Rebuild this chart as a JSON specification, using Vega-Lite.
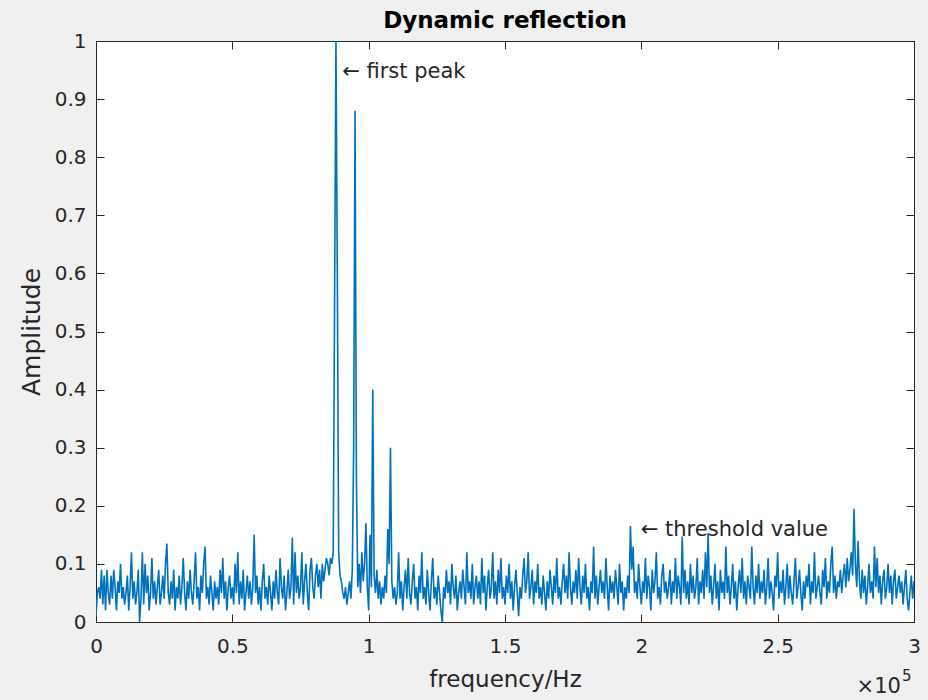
{
"$schema": "https://vega.github.io/schema/vega-lite/v6.json",
"width": 818, "height": 581,
"autosize": {"type": "none"},
"padding": {"left": 96, "top": 41, "right": 14, "bottom": 78},
"background": "#f0f0f0",
"title": {"text": "Dynamic reflection", "fontSize": 23, "fontWeight": "bold", "font": "DejaVu Sans", "color": "#000000", "baseline": "alphabetic", "offset": -20, "anchor": "middle"},
"config": {
  "view": {"fill": "white", "stroke": "#262626", "strokeWidth": 1},
  "axis": {"grid": false, "domainColor": "#262626", "tickColor": "#262626", "labelColor": "#262626", "titleColor": "#262626", "labelFont": "DejaVu Sans", "titleFont": "DejaVu Sans", "labelFontSize": 20, "tickSize": -8, "labelFlush": false, "labelOverlap": false}
},
"datasets": {
"spec": [
{"f":0,"a":0.01},{"f":500,"a":0.05},{"f":1000,"a":0.06},{"f":1500,"a":0.04},{"f":2000,"a":0.09},{"f":2500,"a":0.03},{"f":3000,"a":0.08},{"f":3500,"a":0.02},{"f":4000,"a":0.09},{"f":4500,"a":0.05},
{"f":5000,"a":0.03},{"f":5500,"a":0.08},{"f":6000,"a":0.04},{"f":6500,"a":0.09},{"f":7000,"a":0.06},{"f":7500,"a":0.02},{"f":8000,"a":0.07},{"f":8500,"a":0.05},{"f":9000,"a":0.10},{"f":9500,"a":0.04},
{"f":10000,"a":0.06},{"f":10500,"a":0.03},{"f":11000,"a":0.05},{"f":11500,"a":0.08},{"f":12000,"a":0.02},{"f":12500,"a":0.06},{"f":13000,"a":0.12},{"f":13500,"a":0.04},{"f":14000,"a":0.07},{"f":14500,"a":0.03},
{"f":15000,"a":0.05},{"f":15500,"a":0.09},{"f":16000,"a":0.00},{"f":16500,"a":0.04},{"f":17000,"a":0.12},{"f":17500,"a":0.03},{"f":18000,"a":0.10},{"f":18500,"a":0.05},{"f":19000,"a":0.08},{"f":19500,"a":0.02},
{"f":20000,"a":0.05},{"f":20500,"a":0.11},{"f":21000,"a":0.04},{"f":21500,"a":0.07},{"f":22000,"a":0.03},{"f":22500,"a":0.06},{"f":23000,"a":0.09},{"f":23500,"a":0.03},{"f":24000,"a":0.05},{"f":24500,"a":0.08},
{"f":25000,"a":0.04},{"f":25500,"a":0.10},{"f":26000,"a":0.135},{"f":26500,"a":0.05},{"f":27000,"a":0.03},{"f":27500,"a":0.07},{"f":28000,"a":0.04},{"f":28500,"a":0.09},{"f":29000,"a":0.02},{"f":29500,"a":0.06},
{"f":30000,"a":0.04},{"f":30500,"a":0.08},{"f":31000,"a":0.03},{"f":31500,"a":0.06},{"f":32000,"a":0.11},{"f":32500,"a":0.05},{"f":33000,"a":0.02},{"f":33500,"a":0.07},{"f":34000,"a":0.04},{"f":34500,"a":0.09},
{"f":35000,"a":0.05},{"f":35500,"a":0.03},{"f":36000,"a":0.07},{"f":36500,"a":0.12},{"f":37000,"a":0.04},{"f":37500,"a":0.06},{"f":38000,"a":0.02},{"f":38500,"a":0.08},{"f":39000,"a":0.05},{"f":39500,"a":0.10},
{"f":40000,"a":0.13},{"f":40500,"a":0.04},{"f":41000,"a":0.06},{"f":41500,"a":0.03},{"f":42000,"a":0.08},{"f":42500,"a":0.05},{"f":43000,"a":0.02},{"f":43500,"a":0.07},{"f":44000,"a":0.04},{"f":44500,"a":0.06},
{"f":45000,"a":0.03},{"f":45500,"a":0.09},{"f":46000,"a":0.05},{"f":46500,"a":0.11},{"f":47000,"a":0.04},{"f":47500,"a":0.07},{"f":48000,"a":0.02},{"f":48500,"a":0.06},{"f":49000,"a":0.08},{"f":49500,"a":0.04},
{"f":50000,"a":0.06},{"f":50500,"a":0.03},{"f":51000,"a":0.10},{"f":51500,"a":0.05},{"f":52000,"a":0.12},{"f":52500,"a":0.03},{"f":53000,"a":0.07},{"f":53500,"a":0.04},{"f":54000,"a":0.09},{"f":54500,"a":0.02},
{"f":55000,"a":0.05},{"f":55500,"a":0.08},{"f":56000,"a":0.04},{"f":56500,"a":0.07},{"f":57000,"a":0.03},{"f":57500,"a":0.06},{"f":58000,"a":0.15},{"f":58500,"a":0.05},{"f":59000,"a":0.08},{"f":59500,"a":0.03},
{"f":60000,"a":0.06},{"f":60500,"a":0.02},{"f":61000,"a":0.07},{"f":61500,"a":0.10},{"f":62000,"a":0.04},{"f":62500,"a":0.06},{"f":63000,"a":0.03},{"f":63500,"a":0.08},{"f":64000,"a":0.05},{"f":64500,"a":0.02},
{"f":65000,"a":0.07},{"f":65500,"a":0.04},{"f":66000,"a":0.09},{"f":66500,"a":0.05},{"f":67000,"a":0.03},{"f":67500,"a":0.11},{"f":68000,"a":0.06},{"f":68500,"a":0.04},{"f":69000,"a":0.08},{"f":69500,"a":0.02},
{"f":70000,"a":0.05},{"f":70500,"a":0.09},{"f":71000,"a":0.04},{"f":71500,"a":0.06},{"f":72000,"a":0.145},{"f":72500,"a":0.03},{"f":73000,"a":0.12},{"f":73500,"a":0.05},{"f":74000,"a":0.08},{"f":74500,"a":0.04},
{"f":75000,"a":0.06},{"f":75500,"a":0.12},{"f":76000,"a":0.03},{"f":76500,"a":0.07},{"f":77000,"a":0.10},{"f":77500,"a":0.05},{"f":78000,"a":0.02},{"f":78500,"a":0.09},{"f":79000,"a":0.11},{"f":79500,"a":0.06},
{"f":80000,"a":0.04},{"f":80500,"a":0.08},{"f":81000,"a":0.10},{"f":81500,"a":0.06},{"f":82000,"a":0.09},{"f":82500,"a":0.04},{"f":83000,"a":0.10},{"f":83500,"a":0.07},{"f":84000,"a":0.09},{"f":84500,"a":0.11},
{"f":85000,"a":0.10},{"f":85500,"a":0.08},{"f":86000,"a":0.11},{"f":86500,"a":0.10},{"f":87000,"a":0.12},{"f":87500,"a":0.55},{"f":88000,"a":1.0},{"f":88500,"a":0.60},{"f":89000,"a":0.12},{"f":89500,"a":0.08},
{"f":90000,"a":0.07},{"f":90500,"a":0.05},{"f":91000,"a":0.04},{"f":91500,"a":0.06},{"f":92000,"a":0.03},{"f":92500,"a":0.05},{"f":93000,"a":0.07},{"f":93500,"a":0.04},{"f":94000,"a":0.09},{"f":94500,"a":0.30},
{"f":95000,"a":0.88},{"f":95500,"a":0.25},{"f":96000,"a":0.06},{"f":96500,"a":0.10},{"f":97000,"a":0.05},{"f":97500,"a":0.12},{"f":98000,"a":0.07},{"f":98500,"a":0.10},{"f":99000,"a":0.17},{"f":99500,"a":0.06},
{"f":100000,"a":0.02},{"f":100500,"a":0.15},{"f":101000,"a":0.06},{"f":101500,"a":0.40},{"f":102000,"a":0.08},{"f":102500,"a":0.05},{"f":103000,"a":0.09},{"f":103500,"a":0.04},{"f":104000,"a":0.07},{"f":104500,"a":0.03},
{"f":105000,"a":0.06},{"f":105500,"a":0.04},{"f":106000,"a":0.08},{"f":106500,"a":0.05},{"f":107000,"a":0.16},{"f":107500,"a":0.10},{"f":108000,"a":0.30},{"f":108500,"a":0.07},{"f":109000,"a":0.04},{"f":109500,"a":0.06},
{"f":110000,"a":0.03},{"f":110500,"a":0.05},{"f":111000,"a":0.12},{"f":111500,"a":0.04},{"f":112000,"a":0.07},{"f":112500,"a":0.02},{"f":113000,"a":0.06},{"f":113500,"a":0.09},{"f":114000,"a":0.04},{"f":114500,"a":0.11},
{"f":115000,"a":0.05},{"f":115500,"a":0.03},{"f":116000,"a":0.07},{"f":116500,"a":0.10},{"f":117000,"a":0.04},{"f":117500,"a":0.06},{"f":118000,"a":0.02},{"f":118500,"a":0.08},{"f":119000,"a":0.05},{"f":119500,"a":0.12},
{"f":120000,"a":0.04},{"f":120500,"a":0.06},{"f":121000,"a":0.03},{"f":121500,"a":0.09},{"f":122000,"a":0.05},{"f":122500,"a":0.02},{"f":123000,"a":0.07},{"f":123500,"a":0.11},{"f":124000,"a":0.04},{"f":124500,"a":0.06},
{"f":125000,"a":0.03},{"f":125500,"a":0.08},{"f":126000,"a":0.05},{"f":126500,"a":0.02},{"f":127000,"a":0.00},{"f":127500,"a":0.06},{"f":128000,"a":0.04},{"f":128500,"a":0.09},{"f":129000,"a":0.05},{"f":129500,"a":0.07},
{"f":130000,"a":0.03},{"f":130500,"a":0.10},{"f":131000,"a":0.06},{"f":131500,"a":0.04},{"f":132000,"a":0.08},{"f":132500,"a":0.02},{"f":133000,"a":0.05},{"f":133500,"a":0.07},{"f":134000,"a":0.04},{"f":134500,"a":0.09},
{"f":135000,"a":0.06},{"f":135500,"a":0.03},{"f":136000,"a":0.12},{"f":136500,"a":0.05},{"f":137000,"a":0.07},{"f":137500,"a":0.04},{"f":138000,"a":0.10},{"f":138500,"a":0.03},{"f":139000,"a":0.06},{"f":139500,"a":0.08},
{"f":140000,"a":0.04},{"f":140500,"a":0.07},{"f":141000,"a":0.03},{"f":141500,"a":0.11},{"f":142000,"a":0.05},{"f":142500,"a":0.08},{"f":143000,"a":0.02},{"f":143500,"a":0.06},{"f":144000,"a":0.09},{"f":144500,"a":0.04},
{"f":145000,"a":0.06},{"f":145500,"a":0.12},{"f":146000,"a":0.04},{"f":146500,"a":0.07},{"f":147000,"a":0.03},{"f":147500,"a":0.09},{"f":148000,"a":0.05},{"f":148500,"a":0.11},{"f":149000,"a":0.04},{"f":149500,"a":0.06},
{"f":150000,"a":0.03},{"f":150500,"a":0.08},{"f":151000,"a":0.05},{"f":151500,"a":0.10},{"f":152000,"a":0.04},{"f":152500,"a":0.07},{"f":153000,"a":0.02},{"f":153500,"a":0.06},{"f":154000,"a":0.09},{"f":154500,"a":0.05},
{"f":155000,"a":0.01},{"f":155500,"a":0.06},{"f":156000,"a":0.04},{"f":156500,"a":0.08},{"f":157000,"a":0.11},{"f":157500,"a":0.05},{"f":158000,"a":0.07},{"f":158500,"a":0.12},{"f":159000,"a":0.04},{"f":159500,"a":0.06},
{"f":160000,"a":0.09},{"f":160500,"a":0.03},{"f":161000,"a":0.07},{"f":161500,"a":0.05},{"f":162000,"a":0.10},{"f":162500,"a":0.04},{"f":163000,"a":0.06},{"f":163500,"a":0.03},{"f":164000,"a":0.08},{"f":164500,"a":0.05},
{"f":165000,"a":0.02},{"f":165500,"a":0.07},{"f":166000,"a":0.04},{"f":166500,"a":0.09},{"f":167000,"a":0.06},{"f":167500,"a":0.03},{"f":168000,"a":0.08},{"f":168500,"a":0.05},{"f":169000,"a":0.11},{"f":169500,"a":0.04},
{"f":170000,"a":0.06},{"f":170500,"a":0.03},{"f":171000,"a":0.07},{"f":171500,"a":0.10},{"f":172000,"a":0.05},{"f":172500,"a":0.08},{"f":173000,"a":0.04},{"f":173500,"a":0.12},{"f":174000,"a":0.06},{"f":174500,"a":0.03},
{"f":175000,"a":0.07},{"f":175500,"a":0.05},{"f":176000,"a":0.09},{"f":176500,"a":0.04},{"f":177000,"a":0.11},{"f":177500,"a":0.06},{"f":178000,"a":0.03},{"f":178500,"a":0.08},{"f":179000,"a":0.05},{"f":179500,"a":0.10},
{"f":180000,"a":0.04},{"f":180500,"a":0.06},{"f":181000,"a":0.02},{"f":181500,"a":0.07},{"f":182000,"a":0.05},{"f":182500,"a":0.13},{"f":183000,"a":0.04},{"f":183500,"a":0.08},{"f":184000,"a":0.03},{"f":184500,"a":0.06},
{"f":185000,"a":0.09},{"f":185500,"a":0.05},{"f":186000,"a":0.07},{"f":186500,"a":0.04},{"f":187000,"a":0.11},{"f":187500,"a":0.06},{"f":188000,"a":0.02},{"f":188500,"a":0.08},{"f":189000,"a":0.05},{"f":189500,"a":0.07},
{"f":190000,"a":0.04},{"f":190500,"a":0.09},{"f":191000,"a":0.06},{"f":191500,"a":0.03},{"f":192000,"a":0.10},{"f":192500,"a":0.05},{"f":193000,"a":0.07},{"f":193500,"a":0.02},{"f":194000,"a":0.06},{"f":194500,"a":0.04},
{"f":195000,"a":0.08},{"f":195500,"a":0.05},{"f":196000,"a":0.165},{"f":196500,"a":0.09},{"f":197000,"a":0.13},{"f":197500,"a":0.05},{"f":198000,"a":0.07},{"f":198500,"a":0.04},{"f":199000,"a":0.10},{"f":199500,"a":0.06},
{"f":200000,"a":0.03},{"f":200500,"a":0.07},{"f":201000,"a":0.05},{"f":201500,"a":0.11},{"f":202000,"a":0.04},{"f":202500,"a":0.08},{"f":203000,"a":0.06},{"f":203500,"a":0.02},{"f":204000,"a":0.09},{"f":204500,"a":0.05},
{"f":205000,"a":0.07},{"f":205500,"a":0.12},{"f":206000,"a":0.04},{"f":206500,"a":0.06},{"f":207000,"a":0.03},{"f":207500,"a":0.08},{"f":208000,"a":0.10},{"f":208500,"a":0.05},{"f":209000,"a":0.07},{"f":209500,"a":0.04},
{"f":210000,"a":0.06},{"f":210500,"a":0.09},{"f":211000,"a":0.03},{"f":211500,"a":0.07},{"f":212000,"a":0.05},{"f":212500,"a":0.11},{"f":213000,"a":0.04},{"f":213500,"a":0.08},{"f":214000,"a":0.06},{"f":214500,"a":0.03},
{"f":215000,"a":0.147},{"f":215500,"a":0.05},{"f":216000,"a":0.09},{"f":216500,"a":0.04},{"f":217000,"a":0.07},{"f":217500,"a":0.03},{"f":218000,"a":0.10},{"f":218500,"a":0.05},{"f":219000,"a":0.08},{"f":219500,"a":0.04},
{"f":220000,"a":0.06},{"f":220500,"a":0.11},{"f":221000,"a":0.03},{"f":221500,"a":0.07},{"f":222000,"a":0.05},{"f":222500,"a":0.09},{"f":223000,"a":0.04},{"f":223500,"a":0.12},{"f":224000,"a":0.06},{"f":224500,"a":0.153},
{"f":225000,"a":0.05},{"f":225500,"a":0.08},{"f":226000,"a":0.03},{"f":226500,"a":0.06},{"f":227000,"a":0.10},{"f":227500,"a":0.04},{"f":228000,"a":0.07},{"f":228500,"a":0.02},{"f":229000,"a":0.09},{"f":229500,"a":0.05},
{"f":230000,"a":0.07},{"f":230500,"a":0.04},{"f":231000,"a":0.13},{"f":231500,"a":0.05},{"f":232000,"a":0.08},{"f":232500,"a":0.03},{"f":233000,"a":0.06},{"f":233500,"a":0.10},{"f":234000,"a":0.04},{"f":234500,"a":0.07},
{"f":235000,"a":0.02},{"f":235500,"a":0.06},{"f":236000,"a":0.09},{"f":236500,"a":0.05},{"f":237000,"a":0.11},{"f":237500,"a":0.04},{"f":238000,"a":0.07},{"f":238500,"a":0.03},{"f":239000,"a":0.08},{"f":239500,"a":0.06},
{"f":240000,"a":0.04},{"f":240500,"a":0.13},{"f":241000,"a":0.06},{"f":241500,"a":0.03},{"f":242000,"a":0.08},{"f":242500,"a":0.05},{"f":243000,"a":0.10},{"f":243500,"a":0.04},{"f":244000,"a":0.07},{"f":244500,"a":0.05},
{"f":245000,"a":0.09},{"f":245500,"a":0.03},{"f":246000,"a":0.06},{"f":246500,"a":0.11},{"f":247000,"a":0.04},{"f":247500,"a":0.07},{"f":248000,"a":0.05},{"f":248500,"a":0.02},{"f":249000,"a":0.08},{"f":249500,"a":0.06},
{"f":250000,"a":0.12},{"f":250500,"a":0.04},{"f":251000,"a":0.07},{"f":251500,"a":0.05},{"f":252000,"a":0.09},{"f":252500,"a":0.03},{"f":253000,"a":0.06},{"f":253500,"a":0.10},{"f":254000,"a":0.04},{"f":254500,"a":0.08},
{"f":255000,"a":0.05},{"f":255500,"a":0.03},{"f":256000,"a":0.07},{"f":256500,"a":0.11},{"f":257000,"a":0.04},{"f":257500,"a":0.06},{"f":258000,"a":0.09},{"f":258500,"a":0.05},{"f":259000,"a":0.02},{"f":259500,"a":0.07},
{"f":260000,"a":0.04},{"f":260500,"a":0.08},{"f":261000,"a":0.06},{"f":261500,"a":0.10},{"f":262000,"a":0.03},{"f":262500,"a":0.07},{"f":263000,"a":0.05},{"f":263500,"a":0.12},{"f":264000,"a":0.04},{"f":264500,"a":0.06},
{"f":265000,"a":0.08},{"f":265500,"a":0.05},{"f":266000,"a":0.03},{"f":266500,"a":0.09},{"f":267000,"a":0.06},{"f":267500,"a":0.11},{"f":268000,"a":0.04},{"f":268500,"a":0.07},{"f":269000,"a":0.05},{"f":269500,"a":0.10},
{"f":270000,"a":0.13},{"f":270500,"a":0.05},{"f":271000,"a":0.08},{"f":271500,"a":0.04},{"f":272000,"a":0.07},{"f":272500,"a":0.06},{"f":273000,"a":0.09},{"f":273500,"a":0.05},{"f":274000,"a":0.08},{"f":274500,"a":0.10},
{"f":275000,"a":0.06},{"f":275500,"a":0.11},{"f":276000,"a":0.07},{"f":276500,"a":0.09},{"f":277000,"a":0.12},{"f":277500,"a":0.08},{"f":278000,"a":0.195},{"f":278500,"a":0.10},{"f":279000,"a":0.06},{"f":279500,"a":0.14},
{"f":280000,"a":0.07},{"f":280500,"a":0.04},{"f":281000,"a":0.09},{"f":281500,"a":0.05},{"f":282000,"a":0.08},{"f":282500,"a":0.03},{"f":283000,"a":0.06},{"f":283500,"a":0.10},{"f":284000,"a":0.05},{"f":284500,"a":0.07},
{"f":285000,"a":0.04},{"f":285500,"a":0.13},{"f":286000,"a":0.06},{"f":286500,"a":0.11},{"f":287000,"a":0.05},{"f":287500,"a":0.08},{"f":288000,"a":0.03},{"f":288500,"a":0.07},{"f":289000,"a":0.09},{"f":289500,"a":0.04},
{"f":290000,"a":0.06},{"f":290500,"a":0.10},{"f":291000,"a":0.05},{"f":291500,"a":0.08},{"f":292000,"a":0.03},{"f":292500,"a":0.07},{"f":293000,"a":0.09},{"f":293500,"a":0.04},{"f":294000,"a":0.06},{"f":294500,"a":0.08},
{"f":295000,"a":0.05},{"f":295500,"a":0.07},{"f":296000,"a":0.03},{"f":296500,"a":0.06},{"f":297000,"a":0.09},{"f":297500,"a":0.04},{"f":298000,"a":0.02},{"f":298500,"a":0.05},{"f":299000,"a":0.08},{"f":299500,"a":0.04},
{"f":300000,"a":0.07}
],
"notes": [
{"f":90300,"a":0.947,"label":"← first peak"},
{"f":199800,"a":0.158,"label":"← threshold value"}
],
"exp": [
{"f":295200,"a":-0.122,"label":"×10","size":21,"align":"right"},
{"f":295600,"a":-0.101,"label":"5","size":15,"align":"left"}
]
},
"layer": [
{
 "data": {"name": "spec"},
 "mark": {"type": "line", "color": "#0072BD", "strokeWidth": 1.6, "clip": true},
 "encoding": {
  "x": {"field": "f", "type": "quantitative", "scale": {"domain": [0, 300000]},
        "axis": {"orient": "bottom", "values": [0,50000,100000,150000,200000,250000,300000], "labelExpr": "format(datum.value/100000, '~g')", "title": "frequency/Hz", "titleFontSize": 23, "titleFontWeight": "normal", "labelPadding": 22, "titlePadding": 12}},
  "y": {"field": "a", "type": "quantitative", "scale": {"domain": [0, 1]},
        "axis": {"orient": "left", "values": [0,0.1,0.2,0.3,0.4,0.5,0.6,0.7,0.8,0.9,1], "format": "~g", "title": "Amplitude", "titleFontSize": 25, "titleFontWeight": "normal", "labelPadding": 18, "titlePadding": 10}}
 }
},
{
 "data": {"name": "notes"},
 "mark": {"type": "text", "align": "left", "baseline": "middle", "font": "DejaVu Sans", "fontSize": 21, "color": "#262626"},
 "encoding": {
  "x": {"field": "f", "type": "quantitative", "scale": {"domain": [0, 300000]},
        "axis": {"orient": "top", "values": [0,50000,100000,150000,200000,250000,300000], "labels": false, "title": null}},
  "y": {"field": "a", "type": "quantitative", "scale": {"domain": [0, 1]},
        "axis": {"orient": "right", "values": [0,0.1,0.2,0.3,0.4,0.5,0.6,0.7,0.8,0.9,1], "labels": false, "title": null}},
  "text": {"field": "label"}
 }
},
{
 "data": {"name": "exp"},
 "transform": [{"filter": "datum.align == 'right'"}],
 "mark": {"type": "text", "align": "right", "baseline": "alphabetic", "font": "DejaVu Sans", "fontSize": 21, "color": "#262626"},
 "encoding": {
  "x": {"field": "f", "type": "quantitative", "scale": {"domain": [0, 300000]}, "axis": null},
  "y": {"field": "a", "type": "quantitative", "scale": {"domain": [0, 1]}, "axis": null},
  "text": {"field": "label"}
 }
},
{
 "data": {"name": "exp"},
 "transform": [{"filter": "datum.align == 'left'"}],
 "mark": {"type": "text", "align": "left", "baseline": "alphabetic", "font": "DejaVu Sans", "fontSize": 15, "color": "#262626"},
 "encoding": {
  "x": {"field": "f", "type": "quantitative", "scale": {"domain": [0, 300000]}, "axis": null},
  "y": {"field": "a", "type": "quantitative", "scale": {"domain": [0, 1]}, "axis": null},
  "text": {"field": "label"}
 }
}
],
"resolve": {"axis": {"x": "independent", "y": "independent"}}
}
